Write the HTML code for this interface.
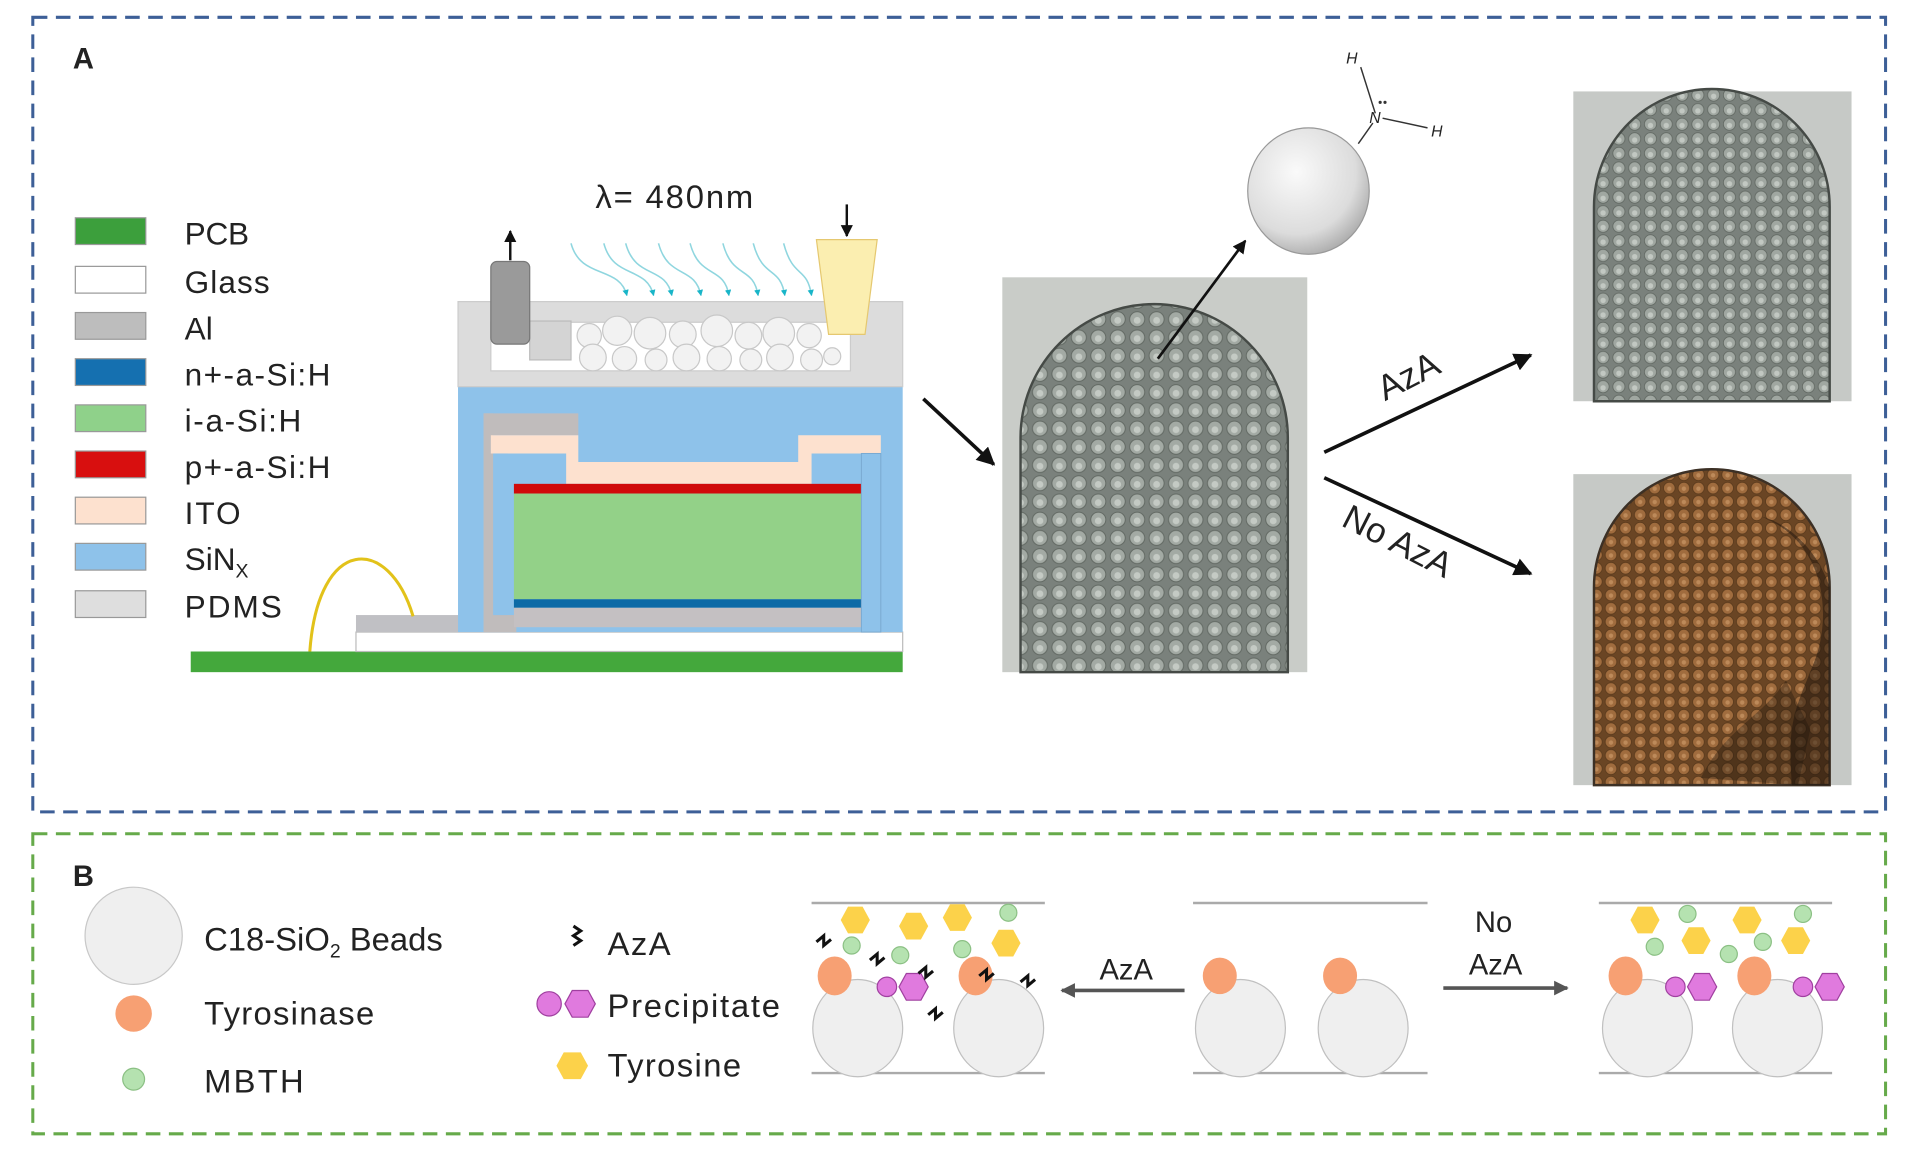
<!DOCTYPE html>
<html><head><meta charset="utf-8"><style>
html,body{margin:0;padding:0;background:#fff;}
svg{display:block;}
text{font-family:"Liberation Sans",sans-serif;fill:#222;}
</style></head><body>
<svg width="1905" height="1156" viewBox="0 0 1568 951" xmlns="http://www.w3.org/2000/svg">
<defs>
<marker id="ah" viewBox="0 0 10 10" refX="9" refY="5" markerWidth="5" markerHeight="5" orient="auto"><path d="M0,0 L10,5 L0,10 z" fill="#111"/></marker>
<marker id="ahg" viewBox="0 0 10 10" refX="9" refY="5" markerWidth="4" markerHeight="4" orient="auto"><path d="M0,0 L10,5 L0,10 z" fill="#555"/></marker>
<marker id="ahc" viewBox="0 0 10 10" refX="9" refY="5" markerWidth="4" markerHeight="4" orient="auto"><path d="M0,0 L10,5 L0,10 z" fill="#19b5c8"/></marker>
<pattern id="beads" width="16" height="15" patternUnits="userSpaceOnUse">
<rect width="16" height="15" fill="#7a817c"/>
<circle cx="8" cy="7.5" r="6.2" fill="#a3aaa4" stroke="#626963" stroke-width="0.8"/>
<circle cx="8" cy="8.5" r="2.8" fill="#c4cac4"/>
</pattern>
<pattern id="beads2" width="13" height="12" patternUnits="userSpaceOnUse">
<rect width="13" height="12" fill="#7a817c"/>
<circle cx="6.5" cy="6" r="5" fill="#a0a7a1" stroke="#626963" stroke-width="0.7"/>
<circle cx="6.5" cy="7" r="2.2" fill="#c2c8c2"/>
</pattern>
<pattern id="brown" width="12" height="11" patternUnits="userSpaceOnUse">
<rect width="12" height="11" fill="#6a4524"/>
<circle cx="6" cy="5.5" r="4.8" fill="#a06c3e" stroke="#5a3a1c" stroke-width="0.7"/>
<circle cx="6" cy="6" r="1.8" fill="#bd8a5a"/>
</pattern>
<radialGradient id="sph" cx="0.4" cy="0.35" r="0.7"><stop offset="0" stop-color="#fafafa"/><stop offset="0.7" stop-color="#dcdcdc"/><stop offset="1" stop-color="#a8a8a8"/></radialGradient>
</defs>

<rect x="27" y="14" width="1525" height="654" fill="none" stroke="#3d5f97" stroke-width="2.5" stroke-dasharray="12,7"/>
<rect x="27" y="686" width="1525" height="247" fill="none" stroke="#66aa4a" stroke-width="2.5" stroke-dasharray="12,7"/>
<text x="60" y="56" font-size="24" font-weight="bold">A</text>
<text x="60" y="729" font-size="24" font-weight="bold">B</text>

<g stroke="#999" stroke-width="1">
<rect x="62" y="179" width="58" height="22" fill="#3c9f3c"/>
<rect x="62" y="219" width="58" height="22" fill="#fff"/>
<rect x="62" y="257" width="58" height="22" fill="#bdbdbd"/>
<rect x="62" y="295" width="58" height="22" fill="#1570b0"/>
<rect x="62" y="333" width="58" height="22" fill="#8fd18a"/>
<rect x="62" y="371" width="58" height="22" fill="#d80f0f"/>
<rect x="62" y="409" width="58" height="22" fill="#fde1cf"/>
<rect x="62" y="447" width="58" height="22" fill="#8ec2ea"/>
<rect x="62" y="486" width="58" height="22" fill="#dedede"/>
</g>
<g font-size="26">
<text x="152" y="201" textLength="53">PCB</text>
<text x="152" y="241" textLength="70">Glass</text>
<text x="152" y="279">Al</text>
<text x="152" y="317" textLength="120">n+-a-Si:H</text>
<text x="152" y="355" textLength="96">i-a-Si:H</text>
<text x="152" y="393" textLength="120">p+-a-Si:H</text>
<text x="152" y="431" textLength="46">ITO</text>
<text x="152" y="469">SiN<tspan font-size="16" dy="6">X</tspan></text>
<text x="152" y="508" textLength="80">PDMS</text>
</g>

<rect x="157" y="536" width="586" height="17" fill="#44a83c"/>
<rect x="293" y="520" width="450" height="16" fill="#fff" stroke="#bbb"/>
<rect x="293" y="506" width="112" height="14" fill="#c0c0c4"/>
<path d="M255,536 C262,440 320,440 340,507" fill="none" stroke="#e2c21a" stroke-width="2.5"/>
<rect x="377" y="318" width="366" height="202" fill="#8ec2ea"/>
<rect x="398" y="340" width="78" height="18" fill="#c0bcbc"/>
<rect x="398" y="340" width="8" height="167" fill="#c0bcbc"/>
<rect x="398" y="506" width="27" height="14" fill="#c0bcbc"/>
<path d="M404,358 H476 V380 H657 V358 H725 V373 H668 V398 H466 V373 H404 Z" fill="#fde1cf"/>
<rect x="406" y="373" width="12" height="133" fill="#8ec2ea"/>
<rect x="423" y="398" width="286" height="8" fill="#d00a0a"/>
<rect x="423" y="406" width="286" height="87" fill="#93d188"/>
<rect x="423" y="493" width="286" height="7" fill="#0c6aa6"/>
<rect x="423" y="500" width="286" height="16" fill="#c4c0c2"/>
<rect x="709" y="373" width="16" height="147" fill="#8ec2ea" stroke="#7aa9d0" stroke-width="0.8"/>
<rect x="377" y="248" width="366" height="70" fill="#dcdcdc" stroke="#ccc"/>
<rect x="404" y="265" width="296" height="40" fill="#fff" stroke="#ccc"/>
<rect x="436" y="264" width="34" height="32" fill="#d4d4d4" stroke="#bbb"/>
<g fill="#f2f2f2" stroke="#c8c8c8" stroke-width="1">
<circle cx="485" cy="276" r="10"/><circle cx="508" cy="272" r="12"/><circle cx="535" cy="274" r="13"/><circle cx="562" cy="275" r="11"/><circle cx="590" cy="272" r="13"/><circle cx="616" cy="276" r="11"/><circle cx="641" cy="274" r="13"/><circle cx="666" cy="276" r="10"/>
<circle cx="488" cy="294" r="11"/><circle cx="514" cy="295" r="10"/><circle cx="540" cy="296" r="9"/><circle cx="565" cy="294" r="11"/><circle cx="592" cy="295" r="10"/><circle cx="618" cy="296" r="9"/><circle cx="642" cy="294" r="11"/><circle cx="668" cy="296" r="9"/><circle cx="685" cy="293" r="7"/>
</g>
<rect x="404" y="215" width="32" height="68" rx="5" fill="#9a9a9a" stroke="#777"/>
<line x1="420" y1="214" x2="420" y2="190" stroke="#111" stroke-width="2" marker-end="url(#ah)"/>
<path d="M672,197 H722 L712,275 H682 Z" fill="#fbeeb0" stroke="#e5c870"/>
<line x1="697" y1="168" x2="697" y2="194" stroke="#111" stroke-width="2" marker-end="url(#ah)"/>
<text x="490" y="171" font-size="27" textLength="130">λ= 480nm</text>
<g fill="none" stroke="#8fd6df" stroke-width="1.3" marker-end="url(#ahc)">
<path d="M470,200 C478,230 510,218 516,243"/>
<path d="M497,200 C505,230 532,218 538,243"/>
<path d="M515,200 C523,230 548,218 553,243"/>
<path d="M542,200 C550,230 572,218 577,243"/>
<path d="M568,200 C576,230 596,218 600,243"/>
<path d="M595,200 C603,230 620,218 624,243"/>
<path d="M620,200 C628,230 642,218 646,243"/>
<path d="M645,200 C653,230 664,218 668,243"/>
</g>

<line x1="760" y1="328" x2="818" y2="382" stroke="#111" stroke-width="3" marker-end="url(#ah)"/>

<rect x="825" y="228" width="251" height="325" fill="#c9ccc8"/>
<path d="M840,553 V360 A110,110 0 0 1 1060,360 V553 Z" fill="url(#beads)" stroke="#454a46" stroke-width="2"/>
<line x1="953" y1="295" x2="1025" y2="198" stroke="#111" stroke-width="2.2" marker-end="url(#ah)"/>
<ellipse cx="1077" cy="157" rx="50" ry="52" fill="url(#sph)" stroke="#999"/>
<g stroke="#333" stroke-width="1.2" fill="none">
<line x1="1118" y1="118" x2="1130" y2="101"/><line x1="1132" y1="93" x2="1120" y2="55"/><line x1="1138" y1="97" x2="1175" y2="105"/>
</g>
<g font-size="13" font-style="italic"><text x="1127" y="101">N</text><text x="1108" y="52">H</text><text x="1178" y="112">H</text></g>
<circle cx="1136" cy="84" r="1.3" fill="#333"/><circle cx="1140" cy="84" r="1.3" fill="#333"/>

<line x1="1090" y1="372" x2="1260" y2="292" stroke="#111" stroke-width="3" marker-end="url(#ah)"/>
<line x1="1090" y1="393" x2="1260" y2="472" stroke="#111" stroke-width="3" marker-end="url(#ah)"/>
<text x="0" y="0" font-size="29" transform="translate(1140,330) rotate(-27)">AzA</text>
<text x="0" y="0" font-size="29" transform="translate(1103,432) rotate(27)">No AzA</text>

<rect x="1295" y="75" width="229" height="255" fill="#c6c9c6"/>
<path d="M1312,330 V170 A97,97 0 0 1 1506,170 V330 Z" fill="url(#beads2)" stroke="#454a46" stroke-width="2"/>
<rect x="1295" y="390" width="229" height="256" fill="#c6c9c6"/>
<path d="M1312,646 V483 A97,97 0 0 1 1506,483 V646 Z" fill="url(#brown)" stroke="#3c3025" stroke-width="2"/>
<path d="M1450,425 C1500,445 1508,500 1495,540 C1480,580 1470,590 1475,646 L1506,646 V483 C1495,450 1470,430 1450,425 Z" fill="#1e140c" opacity="0.5"/>
<path d="M1400,640 C1420,600 1450,590 1470,560 L1490,600 L1480,646 Z" fill="#1e140c" opacity="0.35"/>

<circle cx="110" cy="770" r="40" fill="#efefef" stroke="#c8c8c8"/>
<text x="168" y="782" font-size="27">C18-SiO<tspan font-size="16" dy="6">2</tspan><tspan dy="-6"> Beads</tspan></text>
<circle cx="110" cy="834" r="15" fill="#f7a073"/>
<text x="168" y="843" font-size="27" textLength="140">Tyrosinase</text>
<circle cx="110" cy="888" r="9" fill="#b5e2b0" stroke="#8bc084"/>
<text x="168" y="899" font-size="27" textLength="82">MBTH</text>
<path d="M472,762 l6,4 l-6,4 l6,4 l-6,4" fill="none" stroke="#111" stroke-width="2.5"/>
<text x="500" y="786" font-size="27" textLength="52">AzA</text>
<circle cx="452" cy="826" r="10" fill="#e07ade" stroke="#a040a0"/>
<polygon points="465,826 471,815 484,815 490,826 484,837 471,837" fill="#e07ade" stroke="#a040a0"/>
<text x="500" y="837" font-size="27" textLength="142">Precipitate</text>
<polygon points="458,877 464,866 478,866 484,877 478,888 464,888" fill="#fcd24a"/>
<text x="500" y="886" font-size="27" textLength="110">Tyrosine</text>

<g stroke="#aaa" stroke-width="2">
<line x1="668" y1="743" x2="860" y2="743"/><line x1="668" y1="883" x2="860" y2="883"/>
<line x1="982" y1="743" x2="1175" y2="743"/><line x1="982" y1="883" x2="1175" y2="883"/>
<line x1="1316" y1="743" x2="1508" y2="743"/><line x1="1316" y1="883" x2="1508" y2="883"/>
</g>
<g fill="#efefef" stroke="#c0c0c0">
<ellipse cx="706" cy="846" rx="37" ry="40"/><ellipse cx="822" cy="846" rx="37" ry="40"/>
<ellipse cx="1021" cy="846" rx="37" ry="40"/><ellipse cx="1122" cy="846" rx="37" ry="40"/>
<ellipse cx="1356" cy="846" rx="37" ry="40"/><ellipse cx="1463" cy="846" rx="37" ry="40"/>
</g>
<g fill="#f7a073">
<ellipse cx="687" cy="803" rx="14" ry="16"/><ellipse cx="803" cy="803" rx="14" ry="16"/>
<ellipse cx="1004" cy="803" rx="14" ry="15"/><ellipse cx="1103" cy="803" rx="14" ry="15"/>
<ellipse cx="1338" cy="803" rx="14" ry="16"/><ellipse cx="1444" cy="803" rx="14" ry="16"/>
</g>
<g fill="#fcd24a">
<polygon points="692,757 698,746 710,746 716,757 710,768 698,768"/>
<polygon points="740,762 746,751 758,751 764,762 758,773 746,773"/>
<polygon points="776,755 782,744 794,744 800,755 794,766 782,766"/>
<polygon points="816,776 822,765 834,765 840,776 834,787 822,787"/>
<polygon points="1342,757 1348,746 1360,746 1366,757 1360,768 1348,768"/>
<polygon points="1384,774 1390,763 1402,763 1408,774 1402,785 1390,785"/>
<polygon points="1426,757 1432,746 1444,746 1450,757 1444,768 1432,768"/>
<polygon points="1466,774 1472,763 1484,763 1490,774 1484,785 1472,785"/>
</g>
<g fill="#b5e2b0" stroke="#8bc084">
<circle cx="830" cy="751" r="7"/><circle cx="701" cy="778" r="7"/><circle cx="741" cy="786" r="7"/><circle cx="792" cy="781" r="7"/>
<circle cx="1389" cy="752" r="7"/><circle cx="1484" cy="752" r="7"/><circle cx="1362" cy="779" r="7"/><circle cx="1423" cy="785" r="7"/><circle cx="1451" cy="775" r="7"/>
</g>
<g fill="#e07ade" stroke="#a040a0">
<circle cx="730" cy="812" r="8"/><polygon points="740,812 746,801 758,801 764,812 758,823 746,823"/>
<circle cx="1379" cy="812" r="8"/><polygon points="1389,812 1395,801 1407,801 1413,812 1407,823 1395,823"/>
<circle cx="1484" cy="812" r="8"/><polygon points="1494,812 1500,801 1512,801 1518,812 1512,823 1500,823"/>
</g>
<g fill="none" stroke="#111" stroke-width="2.5">
<path d="M672,775 l6,-5 v8 l6,-5"/><path d="M716,790 l6,-5 v8 l6,-5"/><path d="M756,801 l6,-5 v8 l6,-5"/><path d="M806,803 l6,-5 v8 l6,-5"/><path d="M840,808 l6,-5 v8 l6,-5"/><path d="M764,835 l6,-5 v8 l6,-5"/>
</g>
<line x1="975" y1="815" x2="874" y2="815" stroke="#555" stroke-width="3" marker-end="url(#ahg)"/>
<text x="905" y="806" font-size="24">AzA</text>
<line x1="1188" y1="813" x2="1290" y2="813" stroke="#555" stroke-width="3" marker-end="url(#ahg)"/>
<text x="1214" y="767" font-size="24">No</text>
<text x="1209" y="802" font-size="24">AzA</text>
</svg>
</body></html>
